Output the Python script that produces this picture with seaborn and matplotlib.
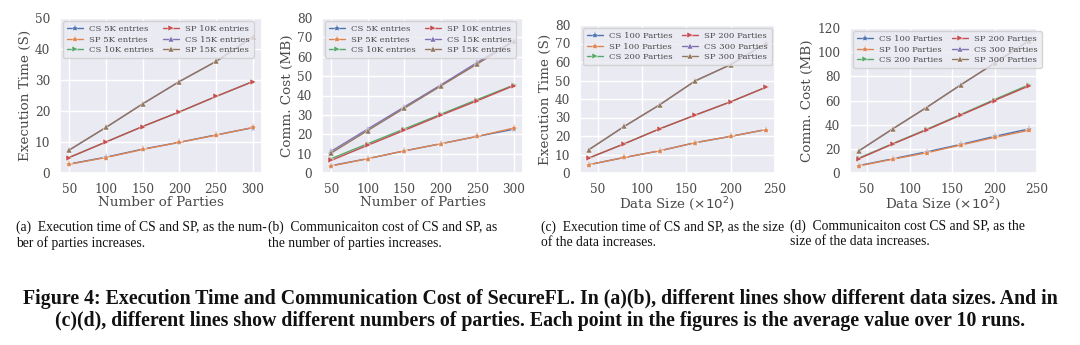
import matplotlib
matplotlib.use("Agg")
import matplotlib.pyplot as plt
import seaborn as sns
import pandas as pd

# ---------------- data ----------------
parties = [50, 100, 150, 200, 250, 300]
data_size = [40, 80, 120, 160, 200, 240]

# (a) execution time vs number of parties
a_cs5 = [2.9, 5.1, 7.7, 9.9, 12.3, 14.6]
a_sp5 = [2.8, 5.0, 7.6, 9.9, 12.2, 14.7]
a_cs10 = [5.0, 10.0, 15.0, 19.7, 24.7, 29.5]
a_sp10 = [5.0, 10.0, 15.0, 19.7, 24.7, 29.5]
a_cs15 = [7.4, 14.7, 22.3, 29.5, 36.0, 43.9]
a_sp15 = [7.4, 14.7, 22.3, 29.5, 36.0, 43.9]

# (b) communication cost vs number of parties
b_cs5 = [3.8, 7.4, 11.4, 15.1, 18.9, 22.6]
b_sp5 = [3.6, 7.4, 11.4, 15.1, 18.9, 23.2]
b_cs10 = [7.4, 15.1, 22.7, 30.3, 37.9, 45.4]
b_sp10 = [6.5, 14.3, 22.0, 29.8, 37.3, 45.1]
b_cs15 = [11.2, 22.7, 34.1, 45.4, 57.1, 68.2]
b_sp15 = [10.3, 21.9, 33.4, 44.9, 56.3, 68.0]

# (c) execution time vs data size
c_cs100 = [4.5, 8.4, 12.0, 16.4, 19.8, 23.5]
c_sp100 = [4.5, 8.4, 12.0, 16.4, 19.8, 23.5]
c_cs200 = [8.1, 15.8, 23.9, 31.3, 38.5, 46.4]
c_sp200 = [8.1, 15.8, 23.9, 31.3, 38.5, 46.4]
c_cs300 = [12.6, 25.2, 36.9, 49.8, 58.6, 70.1]
c_sp300 = [12.6, 25.2, 36.9, 49.8, 58.6, 70.1]

# (d) communication cost vs data size
d_cs100 = [6.1, 11.7, 17.5, 23.6, 30.3, 36.4]
d_sp100 = [5.8, 11.4, 16.7, 23.1, 29.4, 35.3]
d_cs200 = [12.2, 24.2, 36.1, 48.3, 60.8, 72.8]
d_sp200 = [11.7, 23.9, 35.6, 47.8, 60.0, 71.9]
d_cs300 = [18.1, 36.4, 54.2, 72.8, 90.8, 109.2]
d_sp300 = [18.1, 36.4, 54.2, 72.8, 90.8, 109.2]

labels_entries = ["CS 5K entries", "SP 5K entries", "CS 10K entries",
                  "SP 10K entries", "CS 15K entries", "SP 15K entries"]
labels_parties = ["CS 100 Parties", "SP 100 Parties", "CS 200 Parties",
                  "SP 200 Parties", "CS 300 Parties", "SP 300 Parties"]

captions = [
    "(a)  Execution time of CS and SP, as the num-\nber of parties increases.",
    "(b)  Communicaiton cost of CS and SP, as\nthe number of parties increases.",
    "(c)  Execution time of CS and SP, as the size\nof the data increases.",
    "(d)  Communicaiton cost CS and SP, as the\nsize of the data increases.",
]
fig_caption = ("Figure 4: Execution Time and Communication Cost of SecureFL. In (a)(b), different lines show different data sizes. And in\n"
               "(c)(d), different lines show different numbers of parties. Each point in the figures is the average value over 10 runs.")

# ---------------- style ----------------
sns.set_theme(style="darkgrid", palette="deep")
plt.rcParams["font.family"] = ["DejaVu Serif"]
text_col = "#4a4a4a"
plt.rcParams["text.color"] = text_col
plt.rcParams["axes.labelcolor"] = text_col
plt.rcParams["xtick.color"] = text_col
plt.rcParams["ytick.color"] = text_col

pal = sns.color_palette("deep")
markers = ["*", "*", ">", ">", "^", "^"]

fig = plt.figure(figsize=(10.8, 3.45), dpi=100)

panels = [
    dict(rect=[60/1080, 1-173/345, 202/1080, 155/345], x=parties,
         ys=[a_cs5, a_sp5, a_cs10, a_sp10, a_cs15, a_sp15], labels=labels_entries,
         ylim=(0, 50), yticks=[0, 10, 20, 30, 40, 50], xticks=[50, 100, 150, 200, 250, 300],
         xlabel="Number of Parties", ylabel="Execution Time (S)"),
    dict(rect=[322/1080, 1-173/345, 201/1080, 155/345], x=parties,
         ys=[b_cs5, b_sp5, b_cs10, b_sp10, b_cs15, b_sp15], labels=labels_entries,
         ylim=(0, 80), yticks=[0, 10, 20, 30, 40, 50, 60, 70, 80], xticks=[50, 100, 150, 200, 250, 300],
         xlabel="Number of Parties", ylabel="Comm. Cost (MB)"),
    dict(rect=[580/1080, 1-173/345, 195/1080, 148/345], x=data_size,
         ys=[c_cs100, c_sp100, c_cs200, c_sp200, c_cs300, c_sp300], labels=labels_parties,
         ylim=(0, 80), yticks=[0, 10, 20, 30, 40, 50, 60, 70, 80], xticks=[50, 100, 150, 200, 250],
         xlabel="Data Size ($\\times 10^2$)", ylabel="Execution Time (S)", xlim=(30, 250)),
    dict(rect=[850/1080, 1-173/345, 187/1080, 145/345], x=data_size,
         ys=[d_cs100, d_sp100, d_cs200, d_sp200, d_cs300, d_sp300], labels=labels_parties,
         ylim=(0, 120), yticks=[0, 20, 40, 60, 80, 100, 120], xticks=[50, 100, 150, 200, 250],
         xlabel="Data Size ($\\times 10^2$)", ylabel="Comm. Cost (MB)", xlim=(30, 250)),
]

for p in panels:
    ax = fig.add_axes(p["rect"])
    for i, (yv, lab) in enumerate(zip(p["ys"], p["labels"])):
        df = pd.DataFrame({"x": p["x"], "y": yv})
        sns.lineplot(data=df, x="x", y="y", ax=ax, color=pal[i], marker=markers[i],
                     markersize=5 if markers[i] != "*" else 6, linewidth=1.0,
                     markeredgewidth=0.3, label=lab)
    ax.set_ylim(*p["ylim"])
    ax.set_yticks(p["yticks"])
    ax.set_xticks(p["xticks"])
    if "xlim" in p:
        ax.set_xlim(*p["xlim"])
    ax.tick_params(labelsize=8.7, pad=1.0)
    ax.set_xlabel(p["xlabel"], fontsize=9.7, labelpad=0)
    ax.set_ylabel(p["ylabel"], fontsize=9.7, labelpad=2)
    ax.legend(loc="upper left", ncol=2, fontsize=6.1, frameon=True,
              handlelength=1.9, handletextpad=0.7, columnspacing=1.1,
              borderpad=0.45, labelspacing=0.3, borderaxespad=0.4)

cap_x = [16, 268, 541, 790]
for cx, cap in zip(cap_x, captions):
    fig.text(cx/1080, 1-220/345, cap, fontsize=9.8, family=["Liberation Serif"],
             color="#111111", va="top", ha="left", linespacing=1.2)

fig.text(540/1080, 1-289/345, fig_caption, fontsize=14.3, family=["Liberation Serif"],
         weight="bold", color="#111111", va="top", ha="center", multialignment="center",
         linespacing=1.15)

fig.savefig("out.png", dpi=100, facecolor="white")
